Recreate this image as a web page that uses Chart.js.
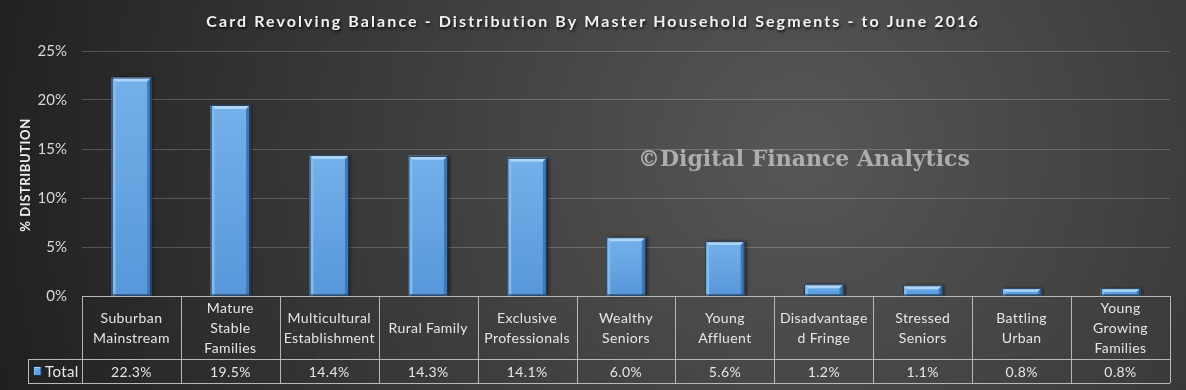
<!DOCTYPE html>
<html><head><meta charset="utf-8">
<script src="https://cdn.jsdelivr.net/npm/chart.js@4.4.0/dist/chart.umd.min.js"></script>
<style>html,body{margin:0;padding:0;background:#2a2a2a;}#wrap{width:1186px;height:390px;}</style>
</head><body><div id="wrap"><canvas id="c" width="1186" height="390"></canvas></div>
<script>
const titleText = "Card Revolving Balance - Distribution By Master Household Segments - to June 2016";
const yAxisTitle = "% DISTRIBUTION";
const watermark = "\u00A9Digital Finance Analytics";
const seriesName = "Total";
const categories = [["Suburban","Mainstream"],["Mature","Stable","Families"],["Multicultural","Establishment"],["Rural Family"],["Exclusive","Professionals"],["Wealthy","Seniors"],["Young","Affluent"],["Disadvantage","d Fringe"],["Stressed","Seniors"],["Battling","Urban"],["Young","Growing","Families"]];
const totals = [22.3,19.5,14.4,14.3,14.1,6.0,5.6,1.2,1.1,0.8,0.8];
const yMin = 0, yMax = 25, yStep = 5;

const bgPlugin = {
  id:'bg',
  beforeDraw(chart){
    const ctx = chart.ctx, W = chart.width, H = chart.height;
    ctx.save();
    const g = ctx.createRadialGradient(800,150,0,800,150,850);
    g.addColorStop(0,'#575757');
    g.addColorStop(0.55,'#383838');
    g.addColorStop(1,'#1f1f1f');
    ctx.fillStyle = g; ctx.fillRect(0,0,W,H);
    // title
    ctx.font = 'bold 16px Lato';
    ctx.textAlign = 'left'; ctx.textBaseline = 'alphabetic';
    const w0 = ctx.measureText(titleText).width;
    const target = 774;
    ctx.letterSpacing = ((target - w0) / titleText.length).toFixed(2) + 'px';
    const w1 = ctx.measureText(titleText).width;
    ctx.shadowColor = 'rgba(0,0,0,0.8)'; ctx.shadowOffsetX = 1; ctx.shadowOffsetY = 2; ctx.shadowBlur = 3;
    ctx.fillStyle = '#f2f2f2';
    ctx.fillText(titleText, 593 - w1/2, 27);
    ctx.restore();
    // y-axis title
    ctx.save();
    ctx.translate(26, 175); ctx.rotate(-Math.PI/2);
    ctx.font = 'bold 13px Lato'; ctx.fillStyle = '#f0f0f0';
    ctx.textAlign = 'center'; ctx.textBaseline = 'middle';
    ctx.letterSpacing = '0.6px';
    ctx.fillText(yAxisTitle, 0, 0);
    ctx.restore();
  }
};

function bevelBar(ctx, left, right, top, bottom, bev){
  const b = Math.min(bev, (bottom-top)/2, (right-left)/2);
  const face = ctx.createLinearGradient(0, top, 0, bottom);
  face.addColorStop(0,'#74b0ea'); face.addColorStop(1,'#5797da');
  ctx.fillStyle = face; ctx.fillRect(left, top, right-left, bottom-top);
  ctx.fillStyle = '#acd5f7';
  ctx.beginPath(); ctx.moveTo(left,top); ctx.lineTo(right,top); ctx.lineTo(right-b,top+b); ctx.lineTo(left+b,top+b); ctx.closePath(); ctx.fill();
  ctx.fillStyle = '#82bbec';
  ctx.beginPath(); ctx.moveTo(left,top); ctx.lineTo(left+b,top+b); ctx.lineTo(left+b,bottom); ctx.lineTo(left,bottom); ctx.closePath(); ctx.fill();
  ctx.fillStyle = '#3f78b5';
  ctx.beginPath(); ctx.moveTo(right,top); ctx.lineTo(right-b,top+b); ctx.lineTo(right-b,bottom); ctx.lineTo(right,bottom); ctx.closePath(); ctx.fill();
  ctx.strokeStyle = '#1c324d'; ctx.lineWidth = 1;
  ctx.strokeRect(left+0.5, top+0.5, right-left-1, bottom-top-1);
}

const barPlugin = {
  id:'bevel',
  afterDatasetsDraw(chart){
    const ctx = chart.ctx;
    const meta = chart.getDatasetMeta(0);
    ctx.save();
    meta.data.forEach(el => {
      const p = el.getProps(['x','y','base','width'], true);
      const l = p.x - p.width/2, r = p.x + p.width/2;
      ctx.shadowColor='rgba(0,0,0,0.5)'; ctx.shadowOffsetX=2; ctx.shadowOffsetY=0; ctx.shadowBlur=3;
      ctx.fillStyle='#1c324d'; ctx.fillRect(l, p.y, p.width, p.base-p.y);
      ctx.shadowColor='transparent'; ctx.shadowOffsetX=0; ctx.shadowBlur=0;
      bevelBar(ctx, l, r, p.y, p.base, 4);
    });
    ctx.restore();
  }
};

const tablePlugin = {
  id:'table',
  afterDraw(chart){
    const ctx = chart.ctx, ca = chart.chartArea, xs = chart.scales.x;
    const n = categories.length;
    const colW = (ca.right - ca.left) / n;
    const yTop = Math.round(ca.bottom), yMid = yTop + 63, yBot = yMid + 24;
    const xLeft = 28;
    ctx.save();
    ctx.strokeStyle = '#b8b8b8'; ctx.lineWidth = 1;
    ctx.beginPath();
    ctx.moveTo(ca.left, yTop+0.5); ctx.lineTo(ca.right, yTop+0.5);
    ctx.moveTo(xLeft, yMid+0.5); ctx.lineTo(ca.right, yMid+0.5);
    ctx.moveTo(xLeft, yBot+0.5); ctx.lineTo(ca.right, yBot+0.5);
    ctx.moveTo(xLeft+0.5, yMid); ctx.lineTo(xLeft+0.5, yBot);
    for(let i=0;i<=n;i++){
      const x = Math.round(ca.left + i*colW) + 0.5;
      ctx.moveTo(x, yTop); ctx.lineTo(x, yBot);
    }
    ctx.stroke();
    ctx.fillStyle = '#e6e6e6';
    ctx.font = '14px Lato';
    ctx.textAlign = 'center'; ctx.textBaseline = 'middle';
    ctx.letterSpacing = '0.4px';
    const lh = 20, cy = (yTop + yMid)/2 + 1;
    categories.forEach((lines, i) => {
      const cx = xs.getPixelForValue(i);
      const start = cy - (lines.length-1)*lh/2;
      lines.forEach((t,k) => ctx.fillText(t, cx, start + k*lh));
      ctx.fillText(totals[i].toFixed(1) + '%', cx, (yMid+yBot)/2 + 1);
    });
    // legend key + series name
    bevelBar(ctx, 33, 42, 366, 376, 2);
    ctx.fillStyle = '#e6e6e6'; ctx.textAlign = 'left';
    ctx.font = '15px Lato';
    ctx.fillText(seriesName, 45, (yMid+yBot)/2 + 1);
    // watermark
    ctx.font = 'bold 20px "DejaVu Serif"';
    ctx.letterSpacing = '0px';
    const ww = ctx.measureText(watermark).width;
    const fs = 20 * 332 / ww;
    ctx.font = 'bold ' + fs.toFixed(2) + 'px "DejaVu Serif"';
    ctx.fillStyle = 'rgba(190,190,190,0.85)';
    ctx.textBaseline = 'alphabetic';
    ctx.fillText(watermark, 638, 166);
    ctx.restore();
  }
};

new Chart(document.getElementById('c'), {
  type:'bar',
  data:{
    labels: categories,
    datasets:[{ label: seriesName, data: totals, backgroundColor:'rgba(0,0,0,0)', borderWidth:0,
      barPercentage:0.4, categoryPercentage:1 }]
  },
  options:{
    responsive:false, animation:false,
    layout:{ padding:{ top:51, bottom:94, right:16, left:0 } },
    plugins:{ legend:{display:false}, tooltip:{enabled:false}, title:{display:false} },
    scales:{
      x:{ display:false, offset:true },
      y:{
        min:yMin, max:yMax,
        afterFit(s){ s.width = 82; },
        border:{ display:false },
        grid:{ color:'rgba(255,255,255,0.2)', drawTicks:false, lineWidth:1 },
        ticks:{ stepSize:yStep, padding:15, color:'#d9d9d9', font:{ family:'Lato', size:15 },
          callback: v => v + '%' }
      }
    }
  },
  plugins:[bgPlugin, barPlugin, tablePlugin]
});
</script></body></html>
